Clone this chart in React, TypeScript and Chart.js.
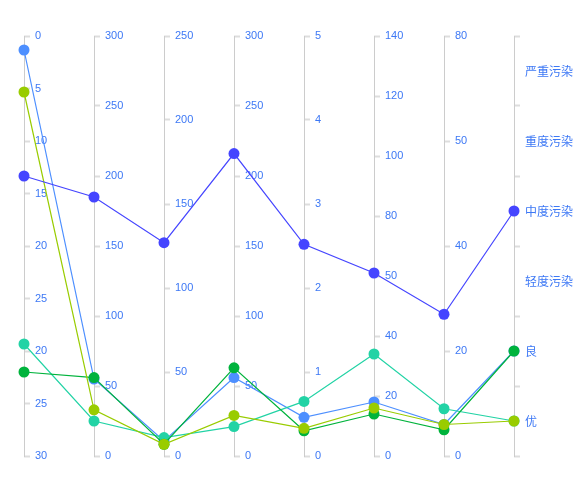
import React, { useEffect, useRef } from 'react';
import { Chart, registerables } from 'chart.js';

Chart.register(...registerables);

// Parallel axes (dimension order)
const DIMENSIONS = ['date', 'AQI', 'PM2.5', 'PM10', 'CO', 'NO2', 'SO2', '等级'];

// Tick labels as shown on each axis (bottom -> top, except date: top -> bottom)
const DATE_TICKS = ['0', '5', '10', '15', '20', '25', '20', '25', '30'];
const AQI_TICKS = ['0', '50', '100', '150', '200', '250', '300'];
const PM25_TICKS = ['0', '50', '100', '150', '200', '250'];
const PM10_TICKS = ['0', '50', '100', '150', '200', '250', '300'];
const CO_TICKS = ['0', '1', '2', '3', '4', '5'];
const NO2_TICKS = ['0', '20', '40', '50', '80', '100', '120', '140'];
const SO2_TICKS = ['0', '20', '40', '50', '80'];
const GRADES = ['优', '良', '轻度污染', '中度污染', '重度污染', '严重污染'];

// Series (one line per record)
const SERIES_COLORS = ['#4d8fff', '#22d3a5', '#00b33c', '#99cc00', '#4545ff'];
const DATES = [1, 22, 24, 4, 10];
const AQI = [55, 25, 56, 33, 185];
const PM25 = [9, 11, 7, 7, 127];
const PM10 = [56, 21, 63, 29, 216];
const CO = [0.46, 0.65, 0.3, 0.33, 2.52];
const NO2 = [18, 34, 14, 16, 61];
const SO2 = [6, 9, 5, 6, 27];
const GRADE = ['良', '优', '良', '优', '中度污染'];

const LABEL_COLOR = '#3d78f5';
const AXIS_COLOR = '#cccccc';
const TICK_COLOR = '#dddddd';

type AxisDef = {
  id: string;
  min: number;
  max: number;
  labels: string[];
  values: number[];
  reverse?: boolean;
  category?: boolean;
};

const AXES: AxisDef[] = [
  { id: 'yDate', min: 0, max: 30, labels: DATE_TICKS, values: DATES, reverse: true },
  { id: 'yAQI', min: 0, max: 300, labels: AQI_TICKS, values: AQI },
  { id: 'yPM25', min: 0, max: 250, labels: PM25_TICKS, values: PM25 },
  { id: 'yPM10', min: 0, max: 300, labels: PM10_TICKS, values: PM10 },
  { id: 'yCO', min: 0, max: 5, labels: CO_TICKS, values: CO },
  { id: 'yNO2', min: 0, max: 140, labels: NO2_TICKS, values: NO2 },
  { id: 'ySO2', min: 0, max: 80, labels: SO2_TICKS, values: SO2 },
  {
    id: 'yGrade',
    min: 0,
    max: GRADES.length,
    labels: GRADES,
    values: GRADE.map((g) => GRADES.indexOf(g) + 0.5),
    category: true,
  },
];

function tickValues(ax: AxisDef): number[] {
  if (ax.category) {
    const out: number[] = [];
    for (let i = 0; i <= ax.labels.length; i++) out.push(i);
    return out;
  }
  const n = ax.labels.length;
  return ax.labels.map((_, i) => ax.min + (i * (ax.max - ax.min)) / (n - 1));
}

function normalized(ax: AxisDef, v: number): number {
  const t = (v - ax.min) / (ax.max - ax.min);
  return ax.reverse ? 1 - t : t;
}

const axisLabelPlugin = {
  id: 'parallelAxisLabels',
  beforeDatasetsDraw(chart: any) {
    const ctx = chart.ctx;
    const xs = chart.scales.x;
    AXES.forEach((ax, k) => {
      const s = chart.scales[ax.id];
      const px = xs.getPixelForValue(k);
      ctx.save();
      ctx.fillStyle = LABEL_COLOR;
      ctx.textAlign = 'left';
      ctx.textBaseline = 'middle';
      if (ax.category) {
        ctx.font = '12px "Noto Sans CJK SC", sans-serif';
        ax.labels.forEach((lab, i) => {
          ctx.fillText(lab, px + 11, s.getPixelForValue(i + 0.5));
        });
      } else {
        ctx.font = '11px "Liberation Sans", Arial, sans-serif';
        s.ticks.forEach((t: any, i: number) => {
          ctx.fillText(ax.labels[i], px + 11, s.getPixelForValue(t.value));
        });
      }
      ctx.restore();
    });
  },
};

export default function App() {
  const canvasRef = useRef<HTMLCanvasElement | null>(null);

  useEffect(() => {
    if (!canvasRef.current) return;

    const scales: any = {
      x: { type: 'linear', min: 0, max: DIMENSIONS.length - 1, display: false },
      y: { type: 'linear', min: 0, max: 1, display: false },
    };
    AXES.forEach((ax, k) => {
      scales[ax.id] = {
        type: 'linear',
        axis: 'y',
        position: { x: k },
        min: ax.min,
        max: ax.max,
        reverse: !!ax.reverse,
        afterBuildTicks: (s: any) => {
          s.ticks = tickValues(ax).map((v) => ({ value: v }));
        },
        grid: {
          drawOnChartArea: false,
          drawTicks: true,
          tickLength: -6,
          tickWidth: 2,
          tickColor: TICK_COLOR,
          color: TICK_COLOR,
        },
        border: { display: true, color: AXIS_COLOR, width: 1 },
        ticks: { display: false },
      };
    });

    const datasets = SERIES_COLORS.map((color, si) => ({
      label: 'series' + si,
      data: AXES.map((ax, k) => ({ x: k, y: normalized(ax, ax.values[si]) })),
      borderColor: color,
      backgroundColor: color,
      pointBackgroundColor: color,
      pointBorderColor: color,
      pointBorderWidth: 0,
      pointRadius: 5.5,
      borderWidth: 1.2,
      tension: 0,
      clip: false,
      order: SERIES_COLORS.length - si,
      xAxisID: 'x',
      yAxisID: 'y',
    }));

    const chart = new Chart(canvasRef.current, {
      type: 'line',
      data: { datasets },
      options: {
        animation: false,
        responsive: true,
        maintainAspectRatio: false,
        events: [],
        layout: { padding: { left: 16, right: 64, top: 28, bottom: 14 } },
        plugins: { legend: { display: false }, tooltip: { enabled: false } },
        scales,
      },
      plugins: [axisLabelPlugin],
    });

    return () => chart.destroy();
  }, []);

  return (
    <div style={{ width: 570, height: 462, position: 'relative' }}>
      <canvas ref={canvasRef} />
    </div>
  );
}
